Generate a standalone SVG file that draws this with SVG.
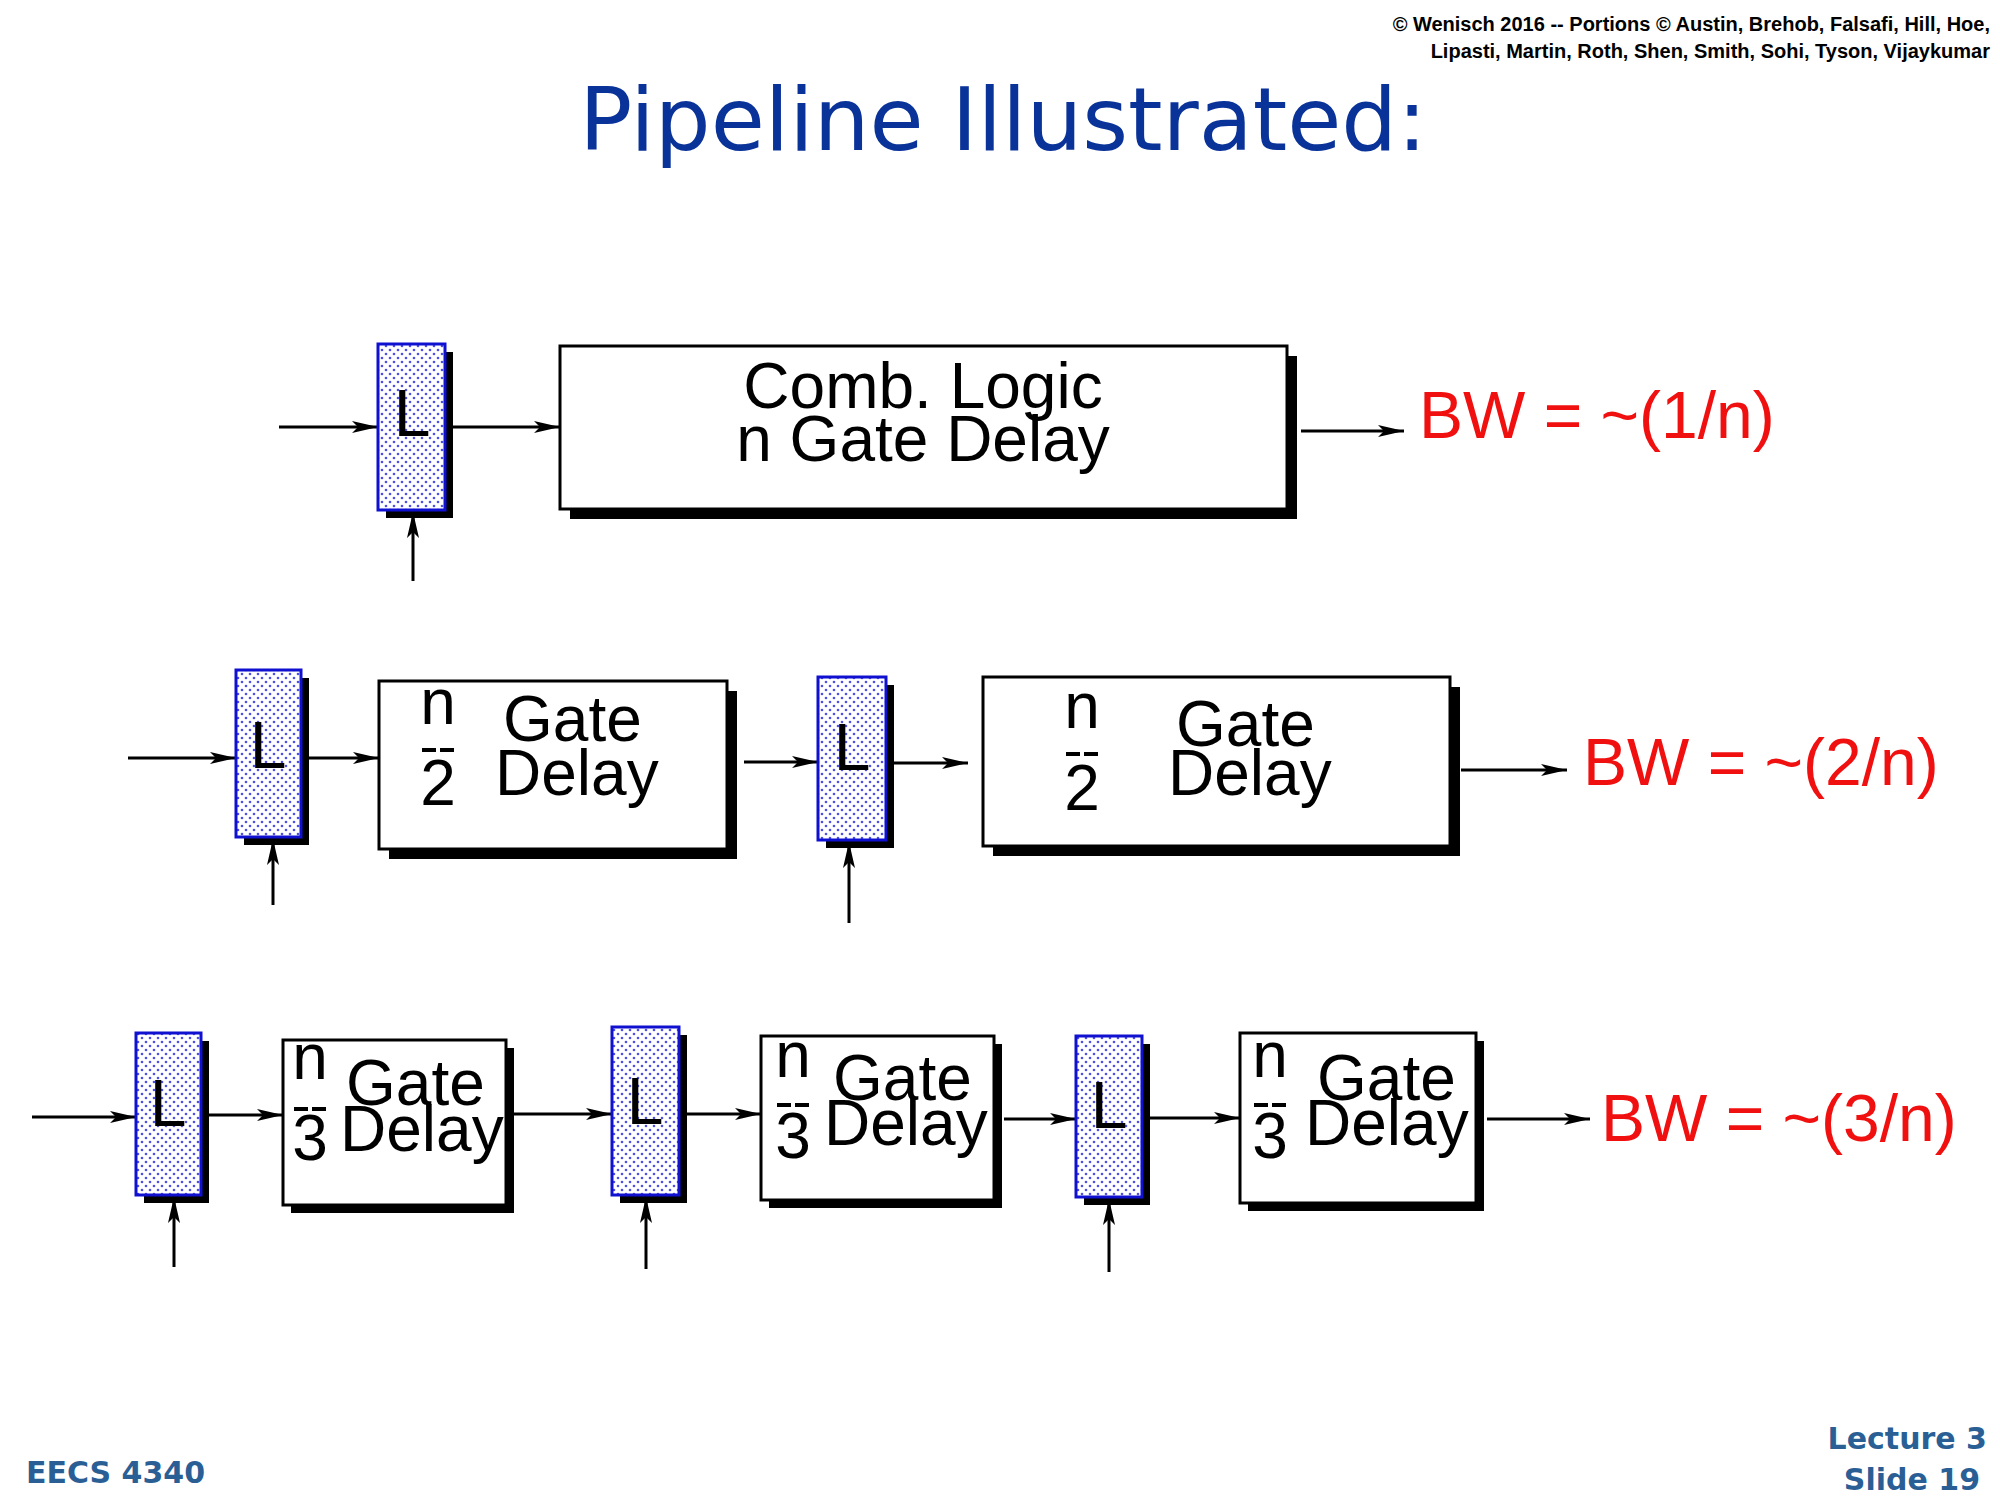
<svg xmlns="http://www.w3.org/2000/svg" width="2000" height="1500" viewBox="0 0 2000 1500">
<defs>
<pattern id="dots" width="8" height="8" patternUnits="userSpaceOnUse">
<rect width="8" height="8" fill="#fff"/>
<circle cx="2" cy="2" r="1.3" fill="#5050e0"/>
<circle cx="6" cy="6" r="1.3" fill="#5050e0"/>
</pattern>
<marker id="ah" viewBox="0 0 26 12" refX="26" refY="6" markerWidth="26" markerHeight="12" markerUnits="userSpaceOnUse" orient="auto">
<path d="M0,0 L26,6 L0,12 L6,6 Z" fill="#000"/>
</marker>
</defs>
<style>
.sh{fill:#000}
.lat{fill:url(#dots);stroke:#1010d0;stroke-width:3}
.box{fill:#fff;stroke:#000;stroke-width:3}
.lt{font-family:"Liberation Sans",Arial,sans-serif;font-size:66px;text-anchor:middle}
.bt{font-family:"Liberation Sans",Arial,sans-serif;font-size:64px}
.bw{font-family:"Liberation Sans",Arial,sans-serif;font-size:66px;fill:#f01010}
.fb{stroke:#000;stroke-width:4;stroke-dasharray:14 4}
#connectors line{stroke:#000;stroke-width:3;marker-end:url(#ah)}
</style>
<rect width="2000" height="1500" fill="#fff"/>
<text x="1990" y="31" text-anchor="end" font-family="Liberation Sans,Arial,sans-serif" font-weight="bold" font-size="20">© Wenisch 2016 -- Portions © Austin, Brehob, Falsafi, Hill, Hoe,</text>
<text x="1990" y="58" text-anchor="end" font-family="Liberation Sans,Arial,sans-serif" font-weight="bold" font-size="20">Lipasti, Martin, Roth, Shen, Smith, Sohi, Tyson, Vijaykumar</text>
<text x="1003" y="150" text-anchor="middle" font-family="DejaVu Sans,sans-serif" font-size="88" fill="#0a3399">Pipeline Illustrated:</text>
<text x="26" y="1483" font-family="DejaVu Sans,sans-serif" font-weight="bold" font-size="30" fill="#2a5f96">EECS 4340</text>
<text x="1987" y="1449" text-anchor="end" font-family="DejaVu Sans,sans-serif" font-weight="bold" font-size="30" fill="#2a5f96">Lecture 3</text>
<text x="1980" y="1490" text-anchor="end" font-family="DejaVu Sans,sans-serif" font-weight="bold" font-size="30" fill="#2a5f96">Slide 19</text>

<g id="connectors">
<line x1="279" y1="427" x2="378" y2="427"/>
<line x1="413" y1="581" x2="413" y2="512"/>
<line x1="445" y1="427" x2="560" y2="427"/>
<line x1="1301" y1="431" x2="1404" y2="431"/>
<line x1="128" y1="758" x2="236" y2="758"/>
<line x1="273" y1="905" x2="273" y2="839"/>
<line x1="301" y1="758" x2="379" y2="758"/>
<line x1="744" y1="762" x2="818" y2="762"/>
<line x1="849" y1="923" x2="849" y2="842"/>
<line x1="894" y1="763" x2="968" y2="763"/>
<line x1="1461" y1="770" x2="1567" y2="770"/>
<line x1="32" y1="1117" x2="136" y2="1117"/>
<line x1="174" y1="1267" x2="174" y2="1197"/>
<line x1="201" y1="1115" x2="283" y2="1115"/>
<line x1="506" y1="1114" x2="612" y2="1114"/>
<line x1="646" y1="1269" x2="646" y2="1197"/>
<line x1="679" y1="1114" x2="761" y2="1114"/>
<line x1="1004" y1="1119" x2="1076" y2="1119"/>
<line x1="1109" y1="1272" x2="1109" y2="1199"/>
<line x1="1142" y1="1118" x2="1240" y2="1118"/>
<line x1="1487" y1="1119" x2="1590" y2="1119"/>
</g>

<g id="latch1"><rect class="sh" x="386" y="352" width="67" height="166"/><rect class="lat" x="378" y="344" width="67" height="166"/><text class="lt" x="412" y="436">L</text></g>
<g id="box1"><rect class="sh" x="570" y="356" width="727" height="163"/><rect class="box" x="560" y="346" width="727" height="163"/>
<text class="bt" font-size="68" x="923" y="408" text-anchor="middle">Comb. Logic</text><text class="bt" font-size="68" x="923" y="461" text-anchor="middle">n Gate Delay</text></g>
<text id="bw1" class="bw" x="1419" y="438">BW =  ~(1/n)</text>

<g id="latch2a"><rect class="sh" x="244" y="678" width="65" height="167"/><rect class="lat" x="236" y="670" width="65" height="167"/><text class="lt" x="268" y="768">L</text></g>
<g id="box2a"><rect class="sh" x="389" y="691" width="348" height="168"/><rect class="box" x="379" y="681" width="348" height="168"/>
<text class="bt" x="438" y="724" text-anchor="middle">n</text><line class="fb" x1="422" y1="750" x2="454" y2="750"/><text class="bt" x="438" y="805" text-anchor="middle">2</text>
<text class="bt" x="503" y="741">Gate</text><text class="bt" x="495" y="795">Delay</text></g>
<g id="latch2b"><rect class="sh" x="826" y="685" width="68" height="163"/><rect class="lat" x="818" y="677" width="68" height="163"/><text class="lt" x="852" y="770">L</text></g>
<g id="box2b"><rect class="sh" x="993" y="687" width="467" height="169"/><rect class="box" x="983" y="677" width="467" height="169"/>
<text class="bt" x="1082" y="728" text-anchor="middle">n</text><line class="fb" x1="1066" y1="754" x2="1098" y2="754"/><text class="bt" x="1082" y="810" text-anchor="middle">2</text>
<text class="bt" x="1176" y="746">Gate</text><text class="bt" x="1168" y="795">Delay</text></g>
<text id="bw2" class="bw" x="1583" y="785">BW =  ~(2/n)</text>

<g id="latch3a"><rect class="sh" x="144" y="1041" width="65" height="162"/><rect class="lat" x="136" y="1033" width="65" height="162"/><text class="lt" x="168" y="1126">L</text></g>
<g id="box3a"><rect class="sh" x="291" y="1048" width="223" height="165"/><rect class="box" x="283" y="1040" width="223" height="165"/>
<text class="bt" x="310" y="1079" text-anchor="middle">n</text><line class="fb" x1="294" y1="1109" x2="326" y2="1109"/><text class="bt" x="310" y="1160" text-anchor="middle">3</text>
<text class="bt" x="346" y="1105">Gate</text><text class="bt" x="340" y="1151">Delay</text></g>
<g id="latch3b"><rect class="sh" x="620" y="1035" width="67" height="168"/><rect class="lat" x="612" y="1027" width="67" height="168"/><text class="lt" x="645" y="1124">L</text></g>
<g id="box3b"><rect class="sh" x="769" y="1044" width="233" height="164"/><rect class="box" x="761" y="1036" width="233" height="164"/>
<text class="bt" x="793" y="1077" text-anchor="middle">n</text><line class="fb" x1="777" y1="1105" x2="809" y2="1105"/><text class="bt" x="793" y="1158" text-anchor="middle">3</text>
<text class="bt" x="833" y="1100">Gate</text><text class="bt" x="824" y="1145">Delay</text></g>
<g id="latch3c"><rect class="sh" x="1084" y="1044" width="66" height="161"/><rect class="lat" x="1076" y="1036" width="66" height="161"/><text class="lt" x="1109" y="1128">L</text></g>
<g id="box3c"><rect class="sh" x="1248" y="1041" width="236" height="170"/><rect class="box" x="1240" y="1033" width="236" height="170"/>
<text class="bt" x="1270" y="1077" text-anchor="middle">n</text><line class="fb" x1="1254" y1="1105" x2="1286" y2="1105"/><text class="bt" x="1270" y="1158" text-anchor="middle">3</text>
<text class="bt" x="1317" y="1100">Gate</text><text class="bt" x="1305" y="1145">Delay</text></g>
<text id="bw3" class="bw" x="1601" y="1141">BW =  ~(3/n)</text>
</svg>
